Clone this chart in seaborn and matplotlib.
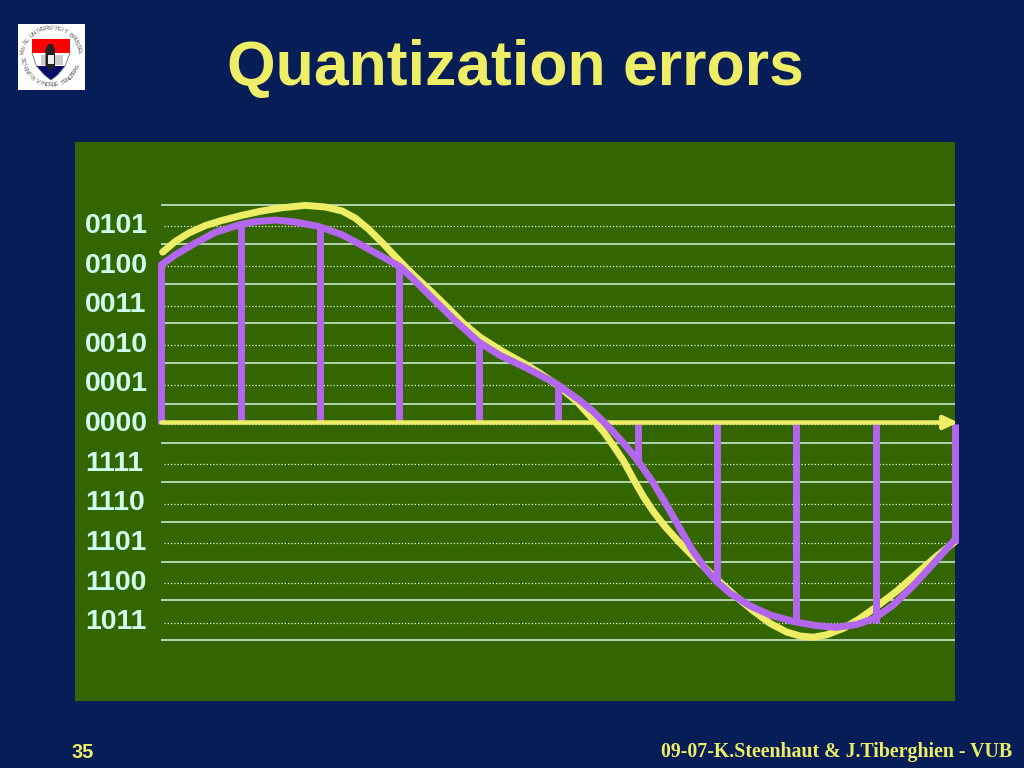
"""
plot.py
-------
Slide "Quantization errors": sampled signal, quantized to 4-bit codes.
"""

import numpy as np
import pandas as pd
import matplotlib
matplotlib.use("Agg")
import matplotlib.pyplot as plt
import seaborn as sns

# --- Data (x in sample periods, y in quantization levels) ---
CODES = ["0101", "0100", "0011", "0010", "0001", "0000",
         "1111", "1110", "1101", "1100", "1011"]
CODE_LEVELS = [5, 4, 3, 2, 1, 0, -1, -2, -3, -4, -5]
BOUNDARIES = [5.55, 4.55, 3.55, 2.55, 1.55, 0.52, -0.46, -1.46, -2.47, -3.48, -4.44, -5.45]

SAMPLES = [0, 1, 2, 3, 4, 5, 6, 7, 8, 9, 10]
SAMPLE_LEVELS = [4, 5, 5, 4, 2, 1, -1, -4, -5, -5, -3]

SIGNAL_X = [0.016, 0.176, 0.344, 0.554, 0.764, 1.016, 1.268, 1.52, 1.814, 2.065, 2.276,
            2.443, 2.611, 2.783, 2.947, 3.174, 3.388, 3.598, 3.807, 4.018, 4.311, 4.563,
            4.773, 4.984, 5.235, 5.424, 5.571, 5.697, 5.823, 5.948, 6.074, 6.2, 6.348,
            6.515, 6.704, 6.873, 7.04, 7.25, 7.46, 7.67, 7.88, 8.05, 8.216, 8.38, 8.59,
            8.8, 9.01, 9.27, 9.52, 9.77, 10.0]
SIGNAL_Y = [4.35, 4.62, 4.83, 5.02, 5.15, 5.28, 5.39, 5.47, 5.53, 5.49, 5.39,
            5.21, 4.93, 4.59, 4.24, 3.78, 3.38, 2.97, 2.55, 2.2, 1.83, 1.55,
            1.29, 1.0, 0.58, 0.16, -0.18, -0.54, -0.92, -1.38, -1.82, -2.2, -2.58,
            -2.95, -3.34, -3.66, -3.98, -4.36, -4.71, -5.02, -5.24, -5.34, -5.37, -5.31, -5.15,
            -4.9, -4.6, -4.2, -3.76, -3.32, -2.96]

QUANT_X = [0.0, 0.176, 0.428, 0.68, 1.0, 1.184, 1.436, 1.688, 1.98, 2.276, 2.528, 2.78,
           3.01, 3.178, 3.388, 3.68, 4.0, 4.27, 4.605, 4.984, 5.277, 5.445, 5.655, 5.823,
           5.99, 6.18, 6.348, 6.515, 6.684, 6.85, 7.0, 7.166, 7.42, 7.67, 7.98, 8.26,
           8.51, 8.76, 8.99, 9.22, 9.47, 9.73, 10.0]
QUANT_Y = [4.03, 4.28, 4.58, 4.85, 5.05, 5.12, 5.16, 5.11, 5.0, 4.79, 4.52, 4.24,
           3.98, 3.66, 3.24, 2.66, 2.08, 1.74, 1.42, 1.02, 0.6, 0.32, -0.1, -0.47,
           -0.88, -1.42, -1.97, -2.56, -3.15, -3.63, -3.97, -4.26, -4.58, -4.81, -4.98, -5.08,
           -5.12, -5.05, -4.89, -4.56, -4.08, -3.51, -2.9]

TITLE = "Quantization errors"
PAGE = "35"
FOOTER = "09-07-K.Steenhaut & J.Tiberghien - VUB"

NAVY = "#061d58"
GREEN = "#336600"
YELLOW = "#eeee66"
PURPLE = "#b266ee"
PALE = "#ccffee"

W, H = 1024, 768


def add_logo(fig):
    ax = fig.add_axes([18 / W, 1 - 90 / H, 67 / W, 66 / H])
    ax.set_xlim(-33.5, 33.5)
    ax.set_ylim(-33, 33)
    ax.set_facecolor("white")
    ax.set_xticks([])
    ax.set_yticks([])
    for s in ax.spines.values():
        s.set_visible(False)

    # shield
    ax.fill([-19.5, 18.5, 18.5, -19.5], [18, 18, 4, 4], color="#ff0000", lw=0)
    ax.fill([-15, 13.5, 6, -0.5, -7], [-9, -9, -18, -23, -18], color="#0a0f6e", lw=0)
    ax.plot([-19.5, -15, -7, -0.5, 6, 13.5, 18.5], [4, -9, -18, -23, -18, -9, 4], color="#555555", lw=0.5)
    ax.fill([-11, 11, 11, -11], [2, 2, -8, -8], color="#cccccc", lw=0)
    ax.fill([-6, -3, 1, 3.5, 3.5, 1, -1, -3.5, -6], [8, 13, 13, 8, -9, -11, -15, -11, -9], color="#222222", lw=0)
    ax.fill([-4, 2, 2, -4], [2, 2, -7, -7], color="#eeeeee", lw=0)

    # ring text
    top = "VRIJE UNIVERSITEIT BRUSSEL"
    for i, ch in enumerate(top):
        ang = np.deg2rad(172 - i * 164 / (len(top) - 1))
        ax.text(28.5 * np.cos(ang) - 0.5, 28.5 * np.sin(ang) + 0.5, ch, fontsize=4.4, color="#555555",
                rotation=np.rad2deg(ang) - 90, ha="center", va="center")
    bottom = "SCIENTIA VINCERE TENEBRAS"
    for i, ch in enumerate(bottom):
        ang = np.deg2rad(184 + i * 156 / (len(bottom) - 1))
        ax.text(28.5 * np.cos(ang) - 0.5, 28.5 * np.sin(ang) + 0.5, ch, fontsize=4.4, color="#555555",
                rotation=np.rad2deg(ang) + 90, ha="center", va="center")


sns.set_theme(style="white")
plt.rcParams["font.family"] = ["Liberation Sans", "DejaVu Sans"]

fig = plt.figure(figsize=(W / 100, H / 100), dpi=100, facecolor=NAVY)
ax = fig.add_axes([75 / W, 1 - 701 / H, 880 / W, 559 / H], facecolor=GREEN)
ax.set_xlim(-1.088, 10.0)
ax.set_ylim(-6.98, 7.13)
ax.set_xticks([])
ax.set_yticks([])
sns.despine(ax=ax, left=True, bottom=True)

# grid: solid at level boundaries, dotted at code levels
ax.hlines(BOUNDARIES, 0.0, 10.0, color="#d8f2e0", lw=1.1, zorder=1)
ax.hlines(CODE_LEVELS, 0.03, 10.0, color="#e8f0d8", lw=0.9, linestyles=(0, (1, 1.6)), zorder=1)

for lev, code in zip(CODE_LEVELS, CODES):
    ax.text(-0.96, lev + 0.01, code, color=PALE, fontsize=20.5, fontweight="bold", ha="left", va="center")

signal = pd.DataFrame({"x": SIGNAL_X, "y": SIGNAL_Y})
quant = pd.DataFrame({"x": QUANT_X, "y": QUANT_Y})
sns.lineplot(data=signal, x="x", y="y", ax=ax, color=YELLOW, lw=5, sort=False, zorder=4,
             clip_on=False, solid_joinstyle="round")
ax.vlines(SAMPLES, 0, SAMPLE_LEVELS, color=PURPLE, lw=5, zorder=5, clip_on=False)

# time axis, over the stems but under the quantized curve
ax.annotate("", xy=(10.04, 0.05), xytext=(0, 0.05), zorder=5.5, annotation_clip=False,
            arrowprops=dict(arrowstyle="-|>,head_length=0.7,head_width=0.33", color=YELLOW, lw=3.2,
                            shrinkA=0, shrinkB=0))

sns.lineplot(data=quant, x="x", y="y", ax=ax, color=PURPLE, lw=5, sort=False, zorder=6,
             clip_on=False, solid_joinstyle="round")
ax.set_xlabel("")
ax.set_ylabel("")

fig.text(515 / W, 1 - 85 / H, TITLE, color=YELLOW, fontsize=45, fontweight="bold", ha="center", va="baseline")
fig.text(72 / W, 1 - 752 / H, PAGE, color=YELLOW, fontsize=14.4, fontweight="bold", ha="left", va="center")
fig.text(1012 / W, 1 - 752 / H, FOOTER, color=YELLOW, fontsize=14.3, fontweight="bold",
         family="Liberation Serif", ha="right", va="center")

add_logo(fig)

fig.savefig("out.png", dpi=100, facecolor=NAVY)
plt.close(fig)
